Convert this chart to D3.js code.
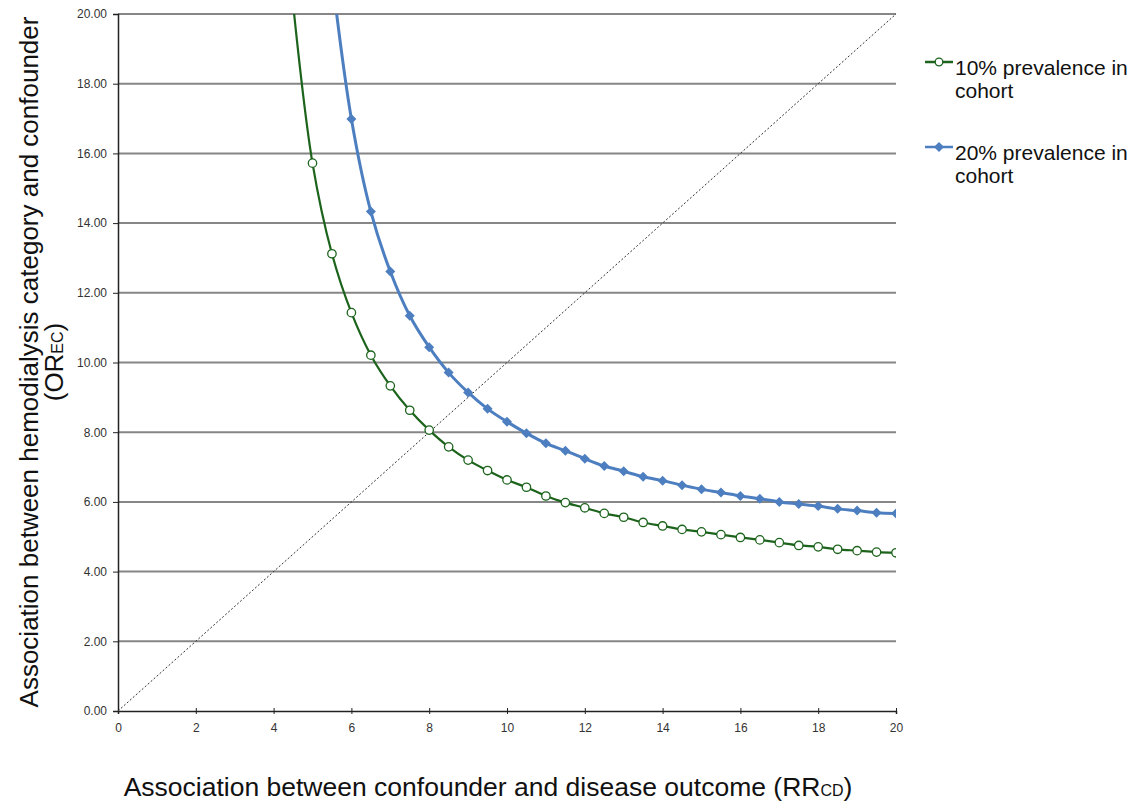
<!DOCTYPE html>
<html>
<head>
<meta charset="utf-8">
<script src="https://cdn.jsdelivr.net/npm/d3@7"></script>
<style>
  body { margin: 0; background: #fff; }
  text { font-family: "Liberation Sans", Arial, sans-serif; }
</style>
</head>
<body>
<svg id="chart"></svg>
<script>
// data
var xTicks = [0, 2, 4, 6, 8, 10, 12, 14, 16, 18, 20];
var yTicks = [0, 2, 4, 6, 8, 10, 12, 14, 16, 18, 20];

var rrGreen = [4.5, 5, 5.5, 6, 6.5, 7, 7.5, 8, 8.5, 9, 9.5, 10, 10.5, 11, 11.5, 12, 12.5,
               13, 13.5, 14, 14.5, 15, 15.5, 16, 16.5, 17, 17.5, 18, 18.5, 19, 19.5, 20];
var orGreen = [20.3, 15.72, 13.12, 11.43, 10.21, 9.33, 8.63, 8.06, 7.58, 7.20, 6.90, 6.63, 6.42,
               6.17, 5.98, 5.83, 5.67, 5.56, 5.41, 5.31, 5.21, 5.14, 5.06, 4.98, 4.91, 4.83,
               4.75, 4.71, 4.64, 4.60, 4.56, 4.54];

var rrBlue = [5.5, 6, 6.5, 7, 7.5, 8, 8.5, 9, 9.5, 10, 10.5, 11, 11.5, 12, 12.5, 13, 13.5,
              14, 14.5, 15, 15.5, 16, 16.5, 17, 17.5, 18, 18.5, 19, 19.5, 20];
var orBlue = [21.1, 16.99, 14.33, 12.61, 11.34, 10.44, 9.71, 9.14, 8.67, 8.30, 7.97, 7.68, 7.47,
              7.24, 7.03, 6.88, 6.72, 6.61, 6.48, 6.36, 6.27, 6.17, 6.09, 6.00, 5.94, 5.88,
              5.80, 5.75, 5.69, 5.67];

var series = [
  { name: ["10% prevalence in", "cohort"], color: "#1c631c", marker: "circle",
    data: rrGreen.map(function(d, i){ return { x: d, y: orGreen[i] }; }) },
  { name: ["20% prevalence in", "cohort"], color: "#4d7fc0", marker: "diamond",
    data: rrBlue.map(function(d, i){ return { x: d, y: orBlue[i] }; }) }
];

var W = 1131, H = 801;
var margin = { left: 118, right: 235, top: 14, bottom: 90 };
var width = W - margin.left - margin.right,
    height = H - margin.top - margin.bottom;

var svg = d3.select("#chart").attr("width", W).attr("height", H);
var g = svg.append("g")
    .attr("transform", "translate(" + margin.left + "," + margin.top + ")");

var x = d3.scaleLinear().domain([0, 20]).range([0, width]);
var y = d3.scaleLinear().domain([0, 20]).range([height, 0]);

// clip
svg.append("defs").append("clipPath").attr("id", "plot")
  .append("rect").attr("x", 0).attr("y", 0).attr("width", width).attr("height", height);

// gridlines
g.selectAll(".grid").data(yTicks.slice(1))
  .enter().append("line")
    .attr("x1", 0).attr("x2", width)
    .attr("y1", function(d){ return y(d); })
    .attr("y2", function(d){ return y(d); })
    .attr("stroke", "#868686")
    .attr("stroke-width", 2);

// Y axis
var yAxis = g.append("g")
  .call(d3.axisLeft(y).tickValues(yTicks).tickFormat(d3.format(".2f")).tickSize(5).tickPadding(6));
yAxis.select(".domain").attr("stroke", "#222").attr("stroke-width", 1.5);
yAxis.selectAll(".tick line").attr("stroke", "#222");
yAxis.selectAll("text").attr("font-size", "12px").attr("fill", "#333");

// X axis
var xAxis = g.append("g")
  .attr("transform", "translate(0," + height + ")")
  .call(d3.axisBottom(x).tickValues(xTicks).tickSize(3).tickPadding(9));
xAxis.select(".domain").attr("stroke", "#222").attr("stroke-width", 1.5);
xAxis.selectAll(".tick line").attr("stroke", "#222").attr("y1", -3);
xAxis.selectAll("text").attr("font-size", "12px").attr("fill", "#333");

// diagonal reference
g.append("line")
  .attr("x1", x(0)).attr("y1", y(0)).attr("x2", x(20)).attr("y2", y(20))
  .attr("stroke", "#333").attr("stroke-width", 1).attr("stroke-dasharray", "2,2");

// series
var line = d3.line()
  .x(function(d){ return x(d.x); })
  .y(function(d){ return y(d.y); })
  .curve(d3.curveCatmullRom.alpha(0.5));

var plot = g.append("g").attr("clip-path", "url(#plot)");
var diamond = "M0,-5L5,0L0,5L-5,0Z";

series.forEach(function(s){
  plot.append("path")
    .datum(s.data)
    .attr("fill", "none")
    .attr("stroke", s.color)
    .attr("stroke-width", s.marker === "circle" ? 2.2 : 3)
    .attr("d", line);

  var pts = s.data.filter(function(d){ return d.y <= 20; });
  if (s.marker === "circle") {
    plot.selectAll(null).data(pts).enter().append("circle")
      .attr("cx", function(d){ return x(d.x); })
      .attr("cy", function(d){ return y(d.y); })
      .attr("r", 4.2)
      .attr("fill", "#fff")
      .attr("stroke", s.color)
      .attr("stroke-width", 1.3);
  } else {
    plot.selectAll(null).data(pts).enter().append("path")
      .attr("d", diamond)
      .attr("transform", function(d){ return "translate(" + x(d.x) + "," + y(d.y) + ")"; })
      .attr("fill", s.color);
  }
});

// legend
var legend = svg.append("g").attr("transform", "translate(925,62)");
series.forEach(function(s, i){
  var lg = legend.append("g").attr("transform", "translate(0," + (i * 85) + ")");
  lg.append("line").attr("x1", 0).attr("x2", 28).attr("y1", 0).attr("y2", 0)
    .attr("stroke", s.color).attr("stroke-width", 2.5);
  if (s.marker === "circle") {
    lg.append("circle").attr("cx", 14).attr("cy", 0).attr("r", 3.8)
      .attr("fill", "#fff").attr("stroke", s.color).attr("stroke-width", 1.3);
  } else {
    lg.append("path").attr("d", diamond).attr("transform", "translate(14,0)").attr("fill", s.color);
  }
  s.name.forEach(function(t, j){
    lg.append("text")
      .attr("x", 30).attr("y", 13 + j * 23)
      .attr("font-size", "21px").attr("fill", "#111")
      .text(t);
  });
});

// X label
var xl = svg.append("text")
  .attr("x", 488)
  .attr("y", 796)
  .attr("font-size", "26.5px")
  .attr("text-anchor", "middle")
  .attr("fill", "#111");
xl.append("tspan").text("Association between confounder and disease outcome (RR");
xl.append("tspan").attr("font-size", "16px").text("CD");
xl.append("tspan").text(")");

// Y label
var yl = svg.append("text")
  .attr("transform", "translate(38,362) rotate(-90)")
  .attr("font-size", "26px")
  .attr("text-anchor", "middle")
  .attr("fill", "#111");
yl.append("tspan").attr("x", 0).attr("y", 0).text("Association between hemodialysis category and confounder");
var yl2 = yl.append("tspan").attr("x", 0).attr("y", 25);
yl2.text("(OR");
yl.append("tspan").attr("font-size", "16px").text("EC");
yl.append("tspan").text(")");
</script>
</body>
</html>
